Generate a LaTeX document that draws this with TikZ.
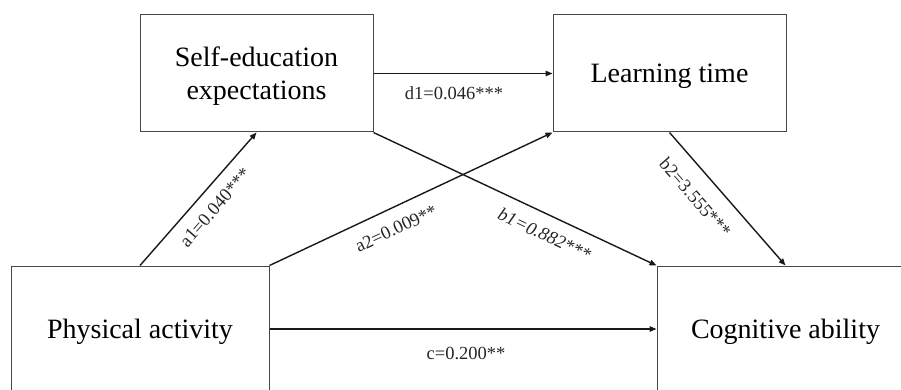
\documentclass[tikz,border=0pt]{standalone}
\usepackage{fontspec}
\setmainfont{Liberation Serif}
\usetikzlibrary{arrows.meta}
\begin{document}
\begin{tikzpicture}[x=1pt,y=-1pt,
  box/.style={draw=black!72, line width=1pt, rectangle, inner sep=0pt, align=center,
              text depth=0pt, font=\fontsize{28}{33}\selectfont},
  conn/.style={line width=1.4pt, black!90, -{Triangle[length=7pt,width=5.5pt]}},
  lbl/.style={font=\fontsize{18.5}{20}\selectfont, inner xsep=0pt, text=black!85}]
\clip (0,0) rectangle (901,390);
\node[box, minimum width=233pt, minimum height=117pt] (se) at (256.5,73.5) {Self-education\\expectations};
\node[box, minimum width=233pt, minimum height=117pt] (lt) at (669.5,73.5) {Learning time};
\node[box, minimum width=258pt, minimum height=126pt] (pa) at (140,329) {Physical activity};
\node[box, minimum width=257pt, minimum height=126pt] (ca) at (785.5,329) {Cognitive ability};
\draw[conn] (pa.north) -- node[lbl, sloped, below, pos=0.526, inner ysep=11.3pt] {a1=0.040***} (se.south);
\draw[conn] (pa.north east) -- node[lbl, sloped, below, pos=0.417, inner ysep=13.4pt] {a2=0.009**} (lt.south west);
\draw[conn] (se.east) -- node[lbl, below, pos=0.45, inner ysep=12.5pt] {d1=0.046***} (lt.west);
\draw[conn] (se.south east) -- node[lbl, sloped, below, pos=0.634, inner ysep=12.3pt] {\itshape b1=0.882***} (ca.north west);
\draw[conn] (lt.south) -- node[lbl, sloped, below, pos=0.375, inner ysep=16.1pt] {b2=3.555***} (ca.north);
\draw[conn] (pa.east) -- node[lbl, below, pos=0.508, inner ysep=17.5pt] {c=0.200**} (ca.west);
\end{tikzpicture}
\end{document}
